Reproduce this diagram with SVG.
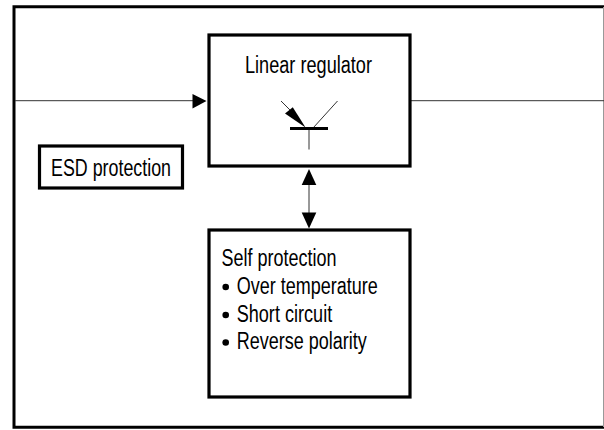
<svg xmlns="http://www.w3.org/2000/svg" width="604" height="430" viewBox="0 0 604 430">
<style>
.box{fill:#fff;stroke:#000;stroke-width:3.2}
.wire{fill:none;stroke:#333;stroke-width:1}
.head{fill:#000;stroke:none}
text{font-family:"Liberation Sans",Arial,sans-serif;font-size:23px;fill:#000}
</style>
<rect width="604" height="430" fill="#fff"/>
<g id="frame"><path d="M604 6.700H14V427.300H604" fill="none" stroke="#000" stroke-width="3"/><path d="M603.500 7V427" fill="none" stroke="#999" stroke-width="1"/></g>
<g id="connectors">
<path class="wire" d="M15 100.700H194"/>
<path class="head" d="M192.500 94V108.500L206.500 101Z"/>
<path class="wire" d="M411 100.700H604"/>
<path class="wire" d="M309 184V214"/>
<path class="head" d="M309 169L301.700 185H316.300Z"/>
<path class="head" d="M309 228.500L301.700 212.500H316.300Z"/>
</g>
<g id="linear-regulator">
<rect class="box" x="209" y="35" width="201" height="131"/>
<text x="245" y="72.500" textLength="127" lengthAdjust="spacingAndGlyphs">Linear regulator</text>
<path class="wire" d="M281 101L291 111M313.500 127.500L337.500 101M309 129V149.500"/>
<path class="head" d="M285 113.500L292.800 107.300L305.500 127.500Z"/>
<path d="M290 128.500H328" stroke="#000" stroke-width="3" fill="none"/>
</g>
<g id="esd-protection">
<rect class="box" x="39.500" y="146" width="143" height="42"/>
<text x="51" y="175.700" textLength="120" lengthAdjust="spacingAndGlyphs">ESD protection</text>
</g>
<g id="self-protection">
<rect class="box" x="209" y="230" width="201" height="167"/>
<text x="221.500" y="265.500" textLength="115" lengthAdjust="spacingAndGlyphs">Self protection</text>
<circle cx="225.700" cy="287" r="3.300"/><text x="236.700" y="293.700" textLength="141" lengthAdjust="spacingAndGlyphs">Over temperature</text>
<circle cx="225.700" cy="315" r="3.300"/><text x="236.700" y="321.500" textLength="95.500" lengthAdjust="spacingAndGlyphs">Short circuit</text>
<circle cx="225.700" cy="342.500" r="3.300"/><text x="236.700" y="349.300" textLength="130" lengthAdjust="spacingAndGlyphs">Reverse polarity</text>
</g>
</svg>
